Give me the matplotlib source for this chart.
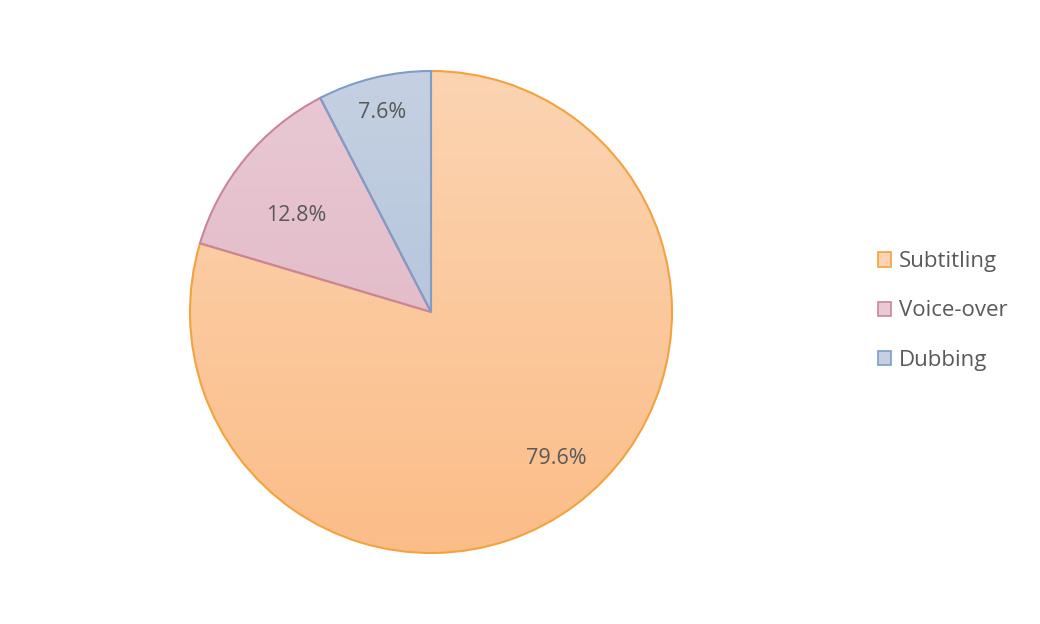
import numpy as np
import matplotlib
matplotlib.use("Agg")
import matplotlib.pyplot as plt
from matplotlib.colors import LinearSegmentedColormap
from matplotlib.patches import Patch

categories = ["Subtitling", "Voice-over", "Dubbing"]
shares = [79.6, 12.8, 7.6]

# top / bottom gradient colours and edge colour for each slice
top_colors = ["#fcd4b2", "#e9c9d4", "#c5d1e2"]
bottom_colors = ["#fbbd88", "#ddb0c0", "#a8bbd8"]
edge_colors = ["#f2a33f", "#c9849f", "#7f9dc6"]

plt.rcParams["font.family"] = ["Open Sans", "DejaVu Sans"]
text_color = "#595959"

fig = plt.figure(figsize=(10.4, 6.24), dpi=100)
cx, cy, r = 431, 312, 241
ax = fig.add_axes([(cx - r) / 1040, (624 - cy - r) / 624, 2 * r / 1040, 2 * r / 624])

wedges, _ = ax.pie(shares, startangle=90, counterclock=False,
                   colors=bottom_colors,
                   wedgeprops=dict(linewidth=1.5))

for w, top, bot, ec in zip(wedges, top_colors, bottom_colors, edge_colors):
    w.set_edgecolor(ec)
    w.set_facecolor("none")
    w.set_zorder(3)
    cmap = LinearSegmentedColormap.from_list("g", [bot, top])
    grad = np.linspace(0, 1, 256).reshape(-1, 1)
    im = ax.imshow(grad, cmap=cmap, extent=[-1, 1, -1, 1], origin="lower",
                   aspect="auto", zorder=2)
    im.set_clip_path(w)

# percentage labels: radius fraction and angle nudge (deg) per slice
label_r = [0.80, 0.69, 0.85]
label_nudge = [4, 4, 0]
for w, val, lr, nd in zip(wedges, shares, label_r, label_nudge):
    ang = np.deg2rad((w.theta1 + w.theta2) / 2 + nd)
    ax.text(lr * np.cos(ang), lr * np.sin(ang), f"{val:.1f}%",
            ha="center", va="center", fontsize=15.5, color=text_color, zorder=4)

ax.set_xlim(-1, 1)
ax.set_ylim(-1, 1)
ax.set_aspect("auto")
ax.axis("off")

handles = [Patch(facecolor=t, edgecolor=e, linewidth=1.2)
           for t, e in zip(top_colors, edge_colors)]
leg = fig.legend(handles, categories, loc="center left",
                 bbox_to_anchor=(858 / 1040, 1 - 311 / 624),
                 frameon=False, fontsize=16, labelcolor=text_color,
                 handlelength=0.6, handleheight=0.6, handletextpad=0.35,
                 labelspacing=1.27)

fig.savefig("out.png", dpi=100)
